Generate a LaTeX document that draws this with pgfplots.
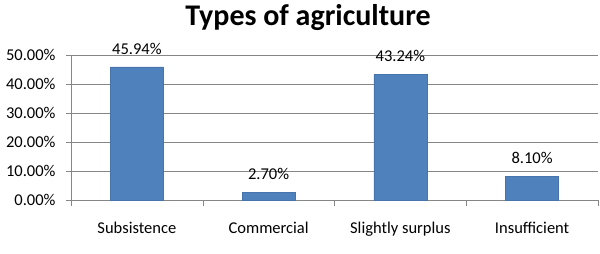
\documentclass[border=0pt]{standalone}
\usepackage{pgfplots}
\pgfplotsset{compat=1.18}
\usepackage{fontspec}
\setmainfont{Carlito}
\definecolor{barblue}{HTML}{4F81BD}
\definecolor{gridgray}{HTML}{868686}
\begin{document}
\begin{tikzpicture}[x=1pt,y=1pt]
\path[use as bounding box] (-71,-54) rectangle (529,200);
\begin{axis}[
  at={(0,0)}, anchor=south west,
  scale only axis,
  width=527pt, height=145pt,
  xmin=-0.5, xmax=3.5, ymin=0, ymax=50,
  axis lines*=left,
  axis line style={gridgray},
  xtick={0,1,2,3},
  xticklabels={Subsistence,Commercial,Slightly surplus,Insufficient},
  minor xtick={-0.5,0.5,1.5,2.5,3.5},
  major x tick style={draw=none},
  minor x tick style={gridgray},
  minor tick length=6pt,
  ytick={0,10,20,30,40,50},
  yticklabels={0.00\%,10.00\%,20.00\%,30.00\%,40.00\%,50.00\%},
  y tick style={gridgray},
  tick align=outside,
  major tick length=5pt,
  ymajorgrids,
  grid style={gridgray, line width=0.6pt},
  ticklabel style={font=\fontsize{16.5}{19}\selectfont},
  xticklabel style={yshift=-14pt},
  yticklabel style={xshift=-7pt},
  /pgf/number format/assume math mode=true,
  ybar, bar width=53pt,
  nodes near coords={\pgfmathprintnumber[fixed,fixed zerofill,precision=2]{\pgfplotspointmeta}\%},
  nodes near coords style={font=\fontsize{16.5}{19}\selectfont, yshift=9pt},
  clip=false,
]
\addplot[fill=barblue, draw=barblue!90!black] coordinates {(0,45.94) (1,2.70) (2,43.24) (3,8.10)};
\end{axis}
\node[font=\fontsize{30}{36}\selectfont\bfseries] at (237,182) {Types of agriculture};
\end{tikzpicture}
\end{document}
